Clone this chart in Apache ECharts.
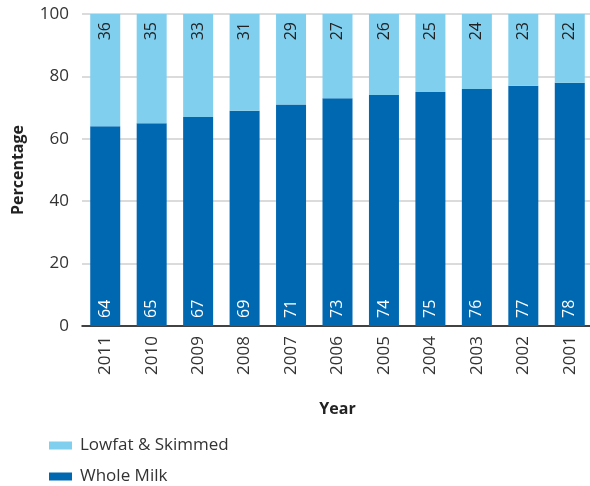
<!DOCTYPE html>
<html>
<head>
<meta charset="utf-8">
<script src="https://cdn.jsdelivr.net/npm/echarts@6/dist/echarts.min.js"></script>
<style>
  html, body { margin: 0; padding: 0; background: #fff; }
  #chart { width: 590px; height: 486px; }
</style>
</head>
<body>
<div id="chart"></div>
<script>
var years = ['2011', '2010', '2009', '2008', '2007', '2006', '2005', '2004', '2003', '2002', '2001'];
var wholeMilk = [64, 65, 67, 69, 71, 73, 74, 75, 76, 77, 78];
var lowfat = [36, 35, 33, 31, 29, 27, 26, 25, 24, 23, 22];
var yTicks = [0, 20, 40, 60, 80, 100];

var font = '"Open Sans", "Noto Sans", sans-serif';
var myChart = echarts.init(document.getElementById('chart'));

myChart.setOption({
  animation: false,
  textStyle: { fontFamily: font },
  grid: { left: 82, top: 14, width: 511, bottom: 160, containLabel: false, outerBoundsMode: 'none' },
  legend: {
    orient: 'vertical',
    left: 44,
    top: 432,
    height: 80,
    icon: 'rect',
    itemWidth: 23,
    itemHeight: 8,
    itemGap: 14,
    textStyle: { fontSize: 17, color: '#333', fontFamily: font, padding: [0, 0, 0, 3] },
    data: ['Lowfat & Skimmed', 'Whole Milk']
  },
  xAxis: {
    type: 'category',
    data: years,
    name: 'Year',
    nameLocation: 'middle',
    nameGap: 75,
    nameTextStyle: { fontSize: 16, fontWeight: 'bold', color: '#222', fontFamily: font },
    axisLine: { lineStyle: { color: '#111', width: 1.5 } },
    axisTick: { show: false },
    axisLabel: { rotate: 90, fontSize: 17, color: '#333', margin: 10, fontFamily: font }
  },
  yAxis: {
    type: 'value',
    min: yTicks[0],
    max: yTicks[yTicks.length - 1],
    interval: 20,
    name: 'Percentage',
    nameLocation: 'middle',
    nameGap: 56,
    nameTextStyle: { fontSize: 16, fontWeight: 'bold', color: '#222', fontFamily: font },
    axisLine: { show: false },
    axisTick: { show: false },
    axisLabel: { fontSize: 17, color: '#333', margin: 13, fontFamily: font },
    splitLine: { lineStyle: { color: '#cfcfcf', width: 1.5 } }
  },
  series: [
    {
      name: 'Whole Milk',
      type: 'bar',
      stack: 'milk',
      data: wholeMilk,
      barWidth: 30,
      itemStyle: { color: '#0067b1' },
      label: {
        show: true,
        position: 'insideBottom',
        rotate: 90,
        align: 'left',
        verticalAlign: 'middle',
        distance: 8,
        color: '#fff',
        fontSize: 16,
        fontFamily: font
      }
    },
    {
      name: 'Lowfat & Skimmed',
      type: 'bar',
      stack: 'milk',
      data: lowfat,
      barWidth: 30,
      itemStyle: { color: '#80cfef' },
      label: {
        show: true,
        position: 'insideTop',
        rotate: 90,
        align: 'right',
        verticalAlign: 'middle',
        distance: 8,
        color: '#222',
        fontSize: 16,
        fontFamily: font
      }
    }
  ]
});
</script>
</body>
</html>
